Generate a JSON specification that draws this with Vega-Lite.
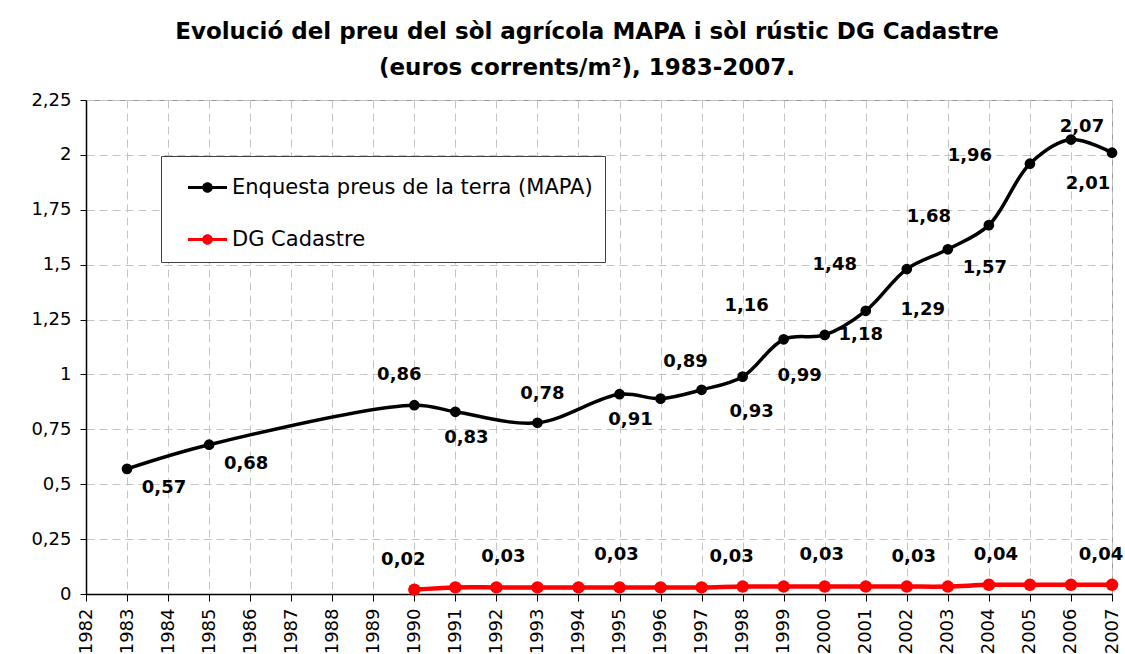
{
  "$schema": "https://vega.github.io/schema/vega-lite/v6.json",
  "width": 1026,
  "height": 494,
  "autosize": {"type": "none"},
  "padding": {"left": 86, "top": 100, "right": 13, "bottom": 60},
  "background": "white",
  "title": {
    "text": ["Evolució del preu del sòl agrícola MAPA  i sòl rústic DG Cadastre", "(euros corrents/m²), 1983-2007."],
    "font": "DejaVu Sans",
    "fontSize": 23,
    "fontWeight": "bold",
    "color": "black",
    "anchor": "middle",
    "lineHeight": 36,
    "offset": 11,
    "dx": -12
  },
  "config": {
    "locale": {"number": {"decimal": ",", "thousands": ".", "grouping": [3], "currency": ["", " €"]}},
    "view": {"stroke": "#999999", "strokeWidth": 1},
    "axis": {
      "labelFont": "DejaVu Sans",
      "labelFontSize": 18,
      "labelColor": "black",
      "tickColor": "black",
      "domainColor": "black",
      "domainWidth": 1.5,
      "gridColor": "#c4c4c4",
      "gridDash": [8, 5],
      "gridWidth": 1
    },
    "legend": {
      "orient": "none",
      "legendX": 75,
      "legendY": 56,
      "padding": 12,
      "symbolOffset": 15,
      "strokeColor": "#404040",
      "fillColor": "white",
      "labelFont": "DejaVu Sans",
      "labelFontSize": 21,
      "labelColor": "black",
      "labelLimit": 600,
      "labelOffset": 5,
      "rowPadding": 22,
      "symbolType": "M-1,-0.08H1V0.08H-1Z M-0.27,0A0.27,0.27 0 1,1 0.27,0A0.27,0.27 0 1,1 -0.27,0Z",
      "symbolSize": 1521,
      "symbolStrokeWidth": 0
    }
  },
  "data": {
    "values": [
      {"series": "Enquesta preus de la terra (MAPA)", "year": 1983, "value": 0.57},
      {"series": "Enquesta preus de la terra (MAPA)", "year": 1985, "value": 0.68},
      {"series": "Enquesta preus de la terra (MAPA)", "year": 1990, "value": 0.86},
      {"series": "Enquesta preus de la terra (MAPA)", "year": 1991, "value": 0.83},
      {"series": "Enquesta preus de la terra (MAPA)", "year": 1993, "value": 0.78},
      {"series": "Enquesta preus de la terra (MAPA)", "year": 1995, "value": 0.91},
      {"series": "Enquesta preus de la terra (MAPA)", "year": 1996, "value": 0.89},
      {"series": "Enquesta preus de la terra (MAPA)", "year": 1997, "value": 0.93},
      {"series": "Enquesta preus de la terra (MAPA)", "year": 1998, "value": 0.99},
      {"series": "Enquesta preus de la terra (MAPA)", "year": 1999, "value": 1.16},
      {"series": "Enquesta preus de la terra (MAPA)", "year": 2000, "value": 1.18},
      {"series": "Enquesta preus de la terra (MAPA)", "year": 2001, "value": 1.29},
      {"series": "Enquesta preus de la terra (MAPA)", "year": 2002, "value": 1.48},
      {"series": "Enquesta preus de la terra (MAPA)", "year": 2003, "value": 1.57},
      {"series": "Enquesta preus de la terra (MAPA)", "year": 2004, "value": 1.68},
      {"series": "Enquesta preus de la terra (MAPA)", "year": 2005, "value": 1.96},
      {"series": "Enquesta preus de la terra (MAPA)", "year": 2006, "value": 2.07},
      {"series": "Enquesta preus de la terra (MAPA)", "year": 2007, "value": 2.01},
      {"series": "DG Cadastre", "year": 1990, "value": 0.02},
      {"series": "DG Cadastre", "year": 1991, "value": 0.03},
      {"series": "DG Cadastre", "year": 1992, "value": 0.03},
      {"series": "DG Cadastre", "year": 1993, "value": 0.03},
      {"series": "DG Cadastre", "year": 1994, "value": 0.03},
      {"series": "DG Cadastre", "year": 1995, "value": 0.03},
      {"series": "DG Cadastre", "year": 1996, "value": 0.03},
      {"series": "DG Cadastre", "year": 1997, "value": 0.03},
      {"series": "DG Cadastre", "year": 1998, "value": 0.034},
      {"series": "DG Cadastre", "year": 1999, "value": 0.034},
      {"series": "DG Cadastre", "year": 2000, "value": 0.034},
      {"series": "DG Cadastre", "year": 2001, "value": 0.034},
      {"series": "DG Cadastre", "year": 2002, "value": 0.034},
      {"series": "DG Cadastre", "year": 2003, "value": 0.034},
      {"series": "DG Cadastre", "year": 2004, "value": 0.042},
      {"series": "DG Cadastre", "year": 2005, "value": 0.042},
      {"series": "DG Cadastre", "year": 2006, "value": 0.042},
      {"series": "DG Cadastre", "year": 2007, "value": 0.042}
    ]
  },
  "encoding": {
    "x": {
      "field": "year",
      "type": "quantitative",
      "scale": {"domain": [1982, 2007], "nice": false, "zero": false},
      "axis": {
        "title": null,
        "values": [1982, 1983, 1984, 1985, 1986, 1987, 1988, 1989, 1990, 1991, 1992, 1993, 1994, 1995, 1996, 1997, 1998, 1999, 2000, 2001, 2002, 2003, 2004, 2005, 2006, 2007],
        "format": "d",
        "labelAngle": -90,
        "labelAlign": "right",
        "labelBaseline": "middle",
        "labelOverlap": false,
        "labelFlush": false,
        "tickSize": 7,
        "labelPadding": 7,
        "grid": true
      }
    },
    "y": {
      "field": "value",
      "type": "quantitative",
      "scale": {"domain": [0, 2.25], "nice": false},
      "axis": {
        "title": null,
        "values": [0, 0.25, 0.5, 0.75, 1, 1.25, 1.5, 1.75, 2, 2.25],
        "format": ".3~g",
        "tickSize": 6,
        "labelPadding": 9,
        "grid": true
      }
    }
  },
  "layer": [
    {
      "transform": [{"filter": "datum.series == 'Enquesta preus de la terra (MAPA)'"}],
      "mark": {"type": "line", "interpolate": "catmull-rom", "strokeWidth": 3.5},
      "encoding": {
        "color": {
          "field": "series",
          "type": "nominal",
          "scale": {"domain": ["Enquesta preus de la terra (MAPA)", "DG Cadastre"], "range": ["#000000", "#ff0000"]},
          "legend": {
            "title": null,
            "encode": {"symbols": {"update": {"fill": {"scale": "color", "field": "value"}, "strokeWidth": {"value": 0}}}}
          }
        }
      }
    },
    {
      "transform": [{"filter": "datum.series == 'DG Cadastre'"}],
      "mark": {"type": "line", "interpolate": "catmull-rom", "strokeWidth": 4.5},
      "encoding": {"color": {"field": "series", "type": "nominal"}}
    },
    {
      "transform": [{"filter": "datum.series == 'Enquesta preus de la terra (MAPA)'"}],
      "mark": {"type": "point", "filled": true, "opacity": 1, "size": 115},
      "encoding": {"color": {"field": "series", "type": "nominal"}}
    },
    {
      "transform": [{"filter": "datum.series == 'DG Cadastre'"}],
      "mark": {"type": "point", "filled": true, "opacity": 1, "size": 155},
      "encoding": {"color": {"field": "series", "type": "nominal"}}
    },
    {
      "transform": [{"filter": "datum.series == 'Enquesta preus de la terra (MAPA)' && indexof([1983, 1985, 2003], datum.year) >= 0"}],
      "mark": {"type": "text", "font": "DejaVu Sans", "fontSize": 18, "fontWeight": "bold", "color": "black", "dx": 37, "dy": 19},
      "encoding": {"text": {"field": "value", "type": "quantitative", "format": ".2f"}}
    },
    {
      "transform": [{"filter": "datum.series == 'Enquesta preus de la terra (MAPA)' && datum.year == 1997"}],
      "mark": {"type": "text", "font": "DejaVu Sans", "fontSize": 18, "fontWeight": "bold", "color": "black", "dx": 50, "dy": 22},
      "encoding": {"text": {"field": "value", "type": "quantitative", "format": ".2f"}}
    },
    {
      "transform": [{"filter": "datum.series == 'Enquesta preus de la terra (MAPA)' && indexof([1991, 1995], datum.year) >= 0"}],
      "mark": {"type": "text", "font": "DejaVu Sans", "fontSize": 18, "fontWeight": "bold", "color": "black", "dx": 11, "dy": 26},
      "encoding": {"text": {"field": "value", "type": "quantitative", "format": ".2f"}}
    },
    {
      "transform": [{"filter": "datum.series == 'Enquesta preus de la terra (MAPA)' && datum.year == 1990"}],
      "mark": {"type": "text", "font": "DejaVu Sans", "fontSize": 18, "fontWeight": "bold", "color": "black", "dx": -15, "dy": -30},
      "encoding": {"text": {"field": "value", "type": "quantitative", "format": ".2f"}}
    },
    {
      "transform": [{"filter": "datum.series == 'Enquesta preus de la terra (MAPA)' && datum.year == 1993"}],
      "mark": {"type": "text", "font": "DejaVu Sans", "fontSize": 18, "fontWeight": "bold", "color": "black", "dx": 5, "dy": -29},
      "encoding": {"text": {"field": "value", "type": "quantitative", "format": ".2f"}}
    },
    {
      "transform": [{"filter": "datum.series == 'Enquesta preus de la terra (MAPA)' && datum.year == 1996"}],
      "mark": {"type": "text", "font": "DejaVu Sans", "fontSize": 18, "fontWeight": "bold", "color": "black", "dx": 25, "dy": -37},
      "encoding": {"text": {"field": "value", "type": "quantitative", "format": ".2f"}}
    },
    {
      "transform": [{"filter": "datum.series == 'Enquesta preus de la terra (MAPA)' && indexof([1998, 2001], datum.year) >= 0"}],
      "mark": {"type": "text", "font": "DejaVu Sans", "fontSize": 18, "fontWeight": "bold", "color": "black", "dx": 57, "dy": -1},
      "encoding": {"text": {"field": "value", "type": "quantitative", "format": ".2f"}}
    },
    {
      "transform": [{"filter": "datum.series == 'Enquesta preus de la terra (MAPA)' && datum.year == 2000"}],
      "mark": {"type": "text", "font": "DejaVu Sans", "fontSize": 18, "fontWeight": "bold", "color": "black", "dx": 36, "dy": 0},
      "encoding": {"text": {"field": "value", "type": "quantitative", "format": ".2f"}}
    },
    {
      "transform": [{"filter": "datum.series == 'Enquesta preus de la terra (MAPA)' && datum.year == 1999"}],
      "mark": {"type": "text", "font": "DejaVu Sans", "fontSize": 18, "fontWeight": "bold", "color": "black", "dx": -37, "dy": -33},
      "encoding": {"text": {"field": "value", "type": "quantitative", "format": ".2f"}}
    },
    {
      "transform": [{"filter": "datum.series == 'Enquesta preus de la terra (MAPA)' && datum.year == 2002"}],
      "mark": {"type": "text", "font": "DejaVu Sans", "fontSize": 18, "fontWeight": "bold", "color": "black", "dx": -72, "dy": -4},
      "encoding": {"text": {"field": "value", "type": "quantitative", "format": ".2f"}}
    },
    {
      "transform": [{"filter": "datum.series == 'Enquesta preus de la terra (MAPA)' && indexof([2004, 2005], datum.year) >= 0"}],
      "mark": {"type": "text", "font": "DejaVu Sans", "fontSize": 18, "fontWeight": "bold", "color": "black", "dx": -60, "dy": -8},
      "encoding": {"text": {"field": "value", "type": "quantitative", "format": ".2f"}}
    },
    {
      "transform": [{"filter": "datum.series == 'Enquesta preus de la terra (MAPA)' && datum.year == 2006"}],
      "mark": {"type": "text", "font": "DejaVu Sans", "fontSize": 18, "fontWeight": "bold", "color": "black", "dx": 11, "dy": -13},
      "encoding": {"text": {"field": "value", "type": "quantitative", "format": ".2f"}}
    },
    {
      "transform": [{"filter": "datum.series == 'Enquesta preus de la terra (MAPA)' && datum.year == 2007"}],
      "mark": {"type": "text", "font": "DejaVu Sans", "fontSize": 18, "fontWeight": "bold", "color": "black", "dx": -24, "dy": 31},
      "encoding": {"text": {"field": "value", "type": "quantitative", "format": ".2f"}}
    },
    {
      "transform": [{"filter": "datum.series == 'DG Cadastre' && indexof([1990, 1998, 2007], datum.year) >= 0"}],
      "mark": {"type": "text", "font": "DejaVu Sans", "fontSize": 18, "fontWeight": "bold", "color": "black", "dx": -11, "dy": -30},
      "encoding": {"text": {"field": "value", "type": "quantitative", "format": ".2f"}}
    },
    {
      "transform": [{"filter": "datum.series == 'DG Cadastre' && indexof([1992, 2002, 2004], datum.year) >= 0"}],
      "mark": {"type": "text", "font": "DejaVu Sans", "fontSize": 18, "fontWeight": "bold", "color": "black", "dx": 7, "dy": -30},
      "encoding": {"text": {"field": "value", "type": "quantitative", "format": ".2f"}}
    },
    {
      "transform": [{"filter": "datum.series == 'DG Cadastre' && indexof([1995, 2000], datum.year) >= 0"}],
      "mark": {"type": "text", "font": "DejaVu Sans", "fontSize": 18, "fontWeight": "bold", "color": "black", "dx": -3, "dy": -32},
      "encoding": {"text": {"field": "value", "type": "quantitative", "format": ".2f"}}
    }
  ]
}
